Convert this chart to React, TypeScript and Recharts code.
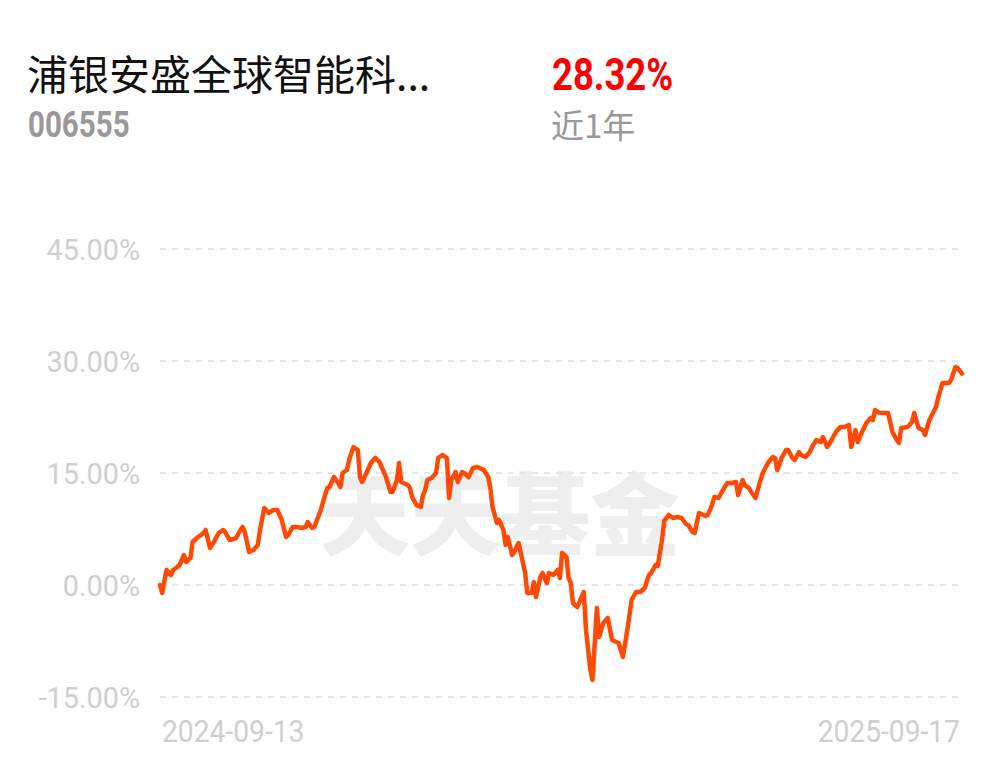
import { LineChart, Line, XAxis, YAxis, CartesianGrid } from 'recharts';

// fund info
const fundName = '浦银安盛全球智能科...';
const fundCode = '006555';
const periodReturn = '28.32%';
const periodLabel = '近1年';

// days since 2024-09-13
const dayOffset = [
  0, 1, 3, 5, 6, 8, 9, 11, 12, 14, 15, 17, 20, 21, 23, 24, 27, 29, 30, 32,
  35, 37, 38, 39, 41, 43, 45, 46, 48, 50, 52, 54, 56, 58, 59, 61, 63, 65, 67, 68,
  70, 71, 74, 75, 77, 78, 80, 82, 83, 84, 86, 87, 89, 91, 92, 93, 95, 97, 99, 101,
  104, 106, 107, 109, 110, 111, 114, 115, 116, 118, 120, 121, 122, 123, 125, 127, 128, 130, 132, 133,
  134, 136, 137, 139, 140, 142, 144, 146, 149, 151, 152, 153, 155, 156, 158, 159, 160, 162, 163, 165,
  167, 168, 169, 171, 172, 173, 175, 176, 178, 179, 181, 183, 184, 185, 187, 188, 189, 190, 192, 195,
  196, 198, 199, 201, 202, 204, 206, 208, 211, 213, 215, 217, 219, 221, 223, 225, 226, 228, 229, 231,
  232, 234, 236, 238, 240, 242, 243, 245, 246, 248, 249, 251, 252, 254, 255, 257, 259, 261, 263, 265,
  266, 268, 269, 271, 272, 274, 275, 277, 278, 280, 282, 283, 284, 286, 288, 289, 291, 292, 294, 295,
  297, 299, 300, 302, 304, 305, 307, 309, 311, 313, 315, 317, 318, 320, 321, 323, 325, 327, 328, 329,
  331, 334, 335, 337, 339, 340, 341, 344, 346, 347, 349, 351, 352, 354, 357, 358, 360, 363, 364, 366,
  367, 369,
];

// cumulative return, %
const returnPct = [
  0.0, -1.07, 2.01, 1.34, 2.01, 2.41, 2.68, 4.02, 3.08, 3.62, 5.76, 6.29, 6.96, 7.37, 4.96, 5.36, 6.96, 7.37, 7.1, 6.03,
  6.29, 7.37, 7.77, 7.1, 4.42, 4.69, 5.36, 7.37, 10.31, 9.64, 10.04, 10.04, 8.71, 6.43, 6.7, 7.77, 7.77, 7.63, 7.77, 8.44,
  7.63, 7.77, 10.04, 11.12, 12.99, 13.13, 14.46, 13.66, 13.13, 15.0, 15.4, 16.74, 18.48, 18.08, 14.46, 13.79, 15.0, 16.34, 17.01, 16.47,
  14.46, 12.46, 12.46, 14.06, 16.34, 13.79, 13.39, 12.99, 11.79, 10.71, 10.45, 12.05, 12.72, 14.06, 14.33, 15.0, 17.01, 17.41, 17.01, 11.65,
  14.06, 15.13, 13.79, 15.13, 15.0, 14.46, 15.67, 15.8, 15.4, 14.46, 12.99, 10.45, 8.3, 8.71, 7.37, 5.36, 6.43, 4.02, 4.42, 5.62,
  2.95, 1.61, -1.07, -1.07, 0.4, -1.61, 1.07, 1.61, 0.27, 1.61, 1.34, 2.01, 0.94, 4.29, 3.75, 0.94, 0.27, -2.41, -2.95, -0.94,
  -6.0, -11.38, -12.72, -3.08, -6.96, -5.09, -4.42, -7.37, -7.77, -9.64, -6.03, -2.01, -0.94, -0.94, -0.4, 1.34, 1.61, 2.68, 2.54, 6.03,
  8.57, 9.38, 8.97, 9.11, 8.97, 8.17, 8.04, 7.1, 6.96, 9.64, 9.51, 9.24, 9.38, 10.71, 11.79, 11.65, 12.72, 13.66, 13.66, 13.79,
  12.05, 14.06, 13.39, 12.99, 12.46, 11.65, 12.72, 14.73, 15.4, 16.47, 17.14, 17.01, 15.4, 17.01, 18.08, 18.08, 17.01, 16.74, 17.81, 17.41,
  17.14, 17.81, 18.48, 19.42, 19.15, 19.82, 18.48, 19.42, 20.49, 21.16, 21.16, 21.43, 18.48, 20.76, 19.15, 20.49, 21.7, 22.37, 22.1, 23.44,
  23.04, 23.04, 23.04, 20.49, 19.42, 19.02, 21.03, 21.16, 21.83, 23.04, 21.03, 20.76, 20.09, 22.1, 23.84, 25.04, 27.05, 27.05, 27.46, 29.2,
  29.06, 28.32,
];

const yTicks = [-15, 0, 15, 30, 45];
const xTicks = [0, 369];
const xTickLabels = ['2024-09-13', '2025-09-17'];

const data = dayOffset.map((d, i) => ({ day: d, value: returnPct[i] }));

const YTick = ({ x, y, payload }: any) => (
  <g transform={`translate(${x},${y})`}>
    <text
      transform="scale(0.96,1)"
      textAnchor="end"
      dy="0.36em"
      fontSize={30}
      fill="#cfcfcf"
      fontFamily="Roboto"
    >
      {payload.value.toFixed(2) + '%'}
    </text>
  </g>
);

const XTick = ({ x, y, payload }: any) => {
  const idx = xTicks.indexOf(payload.value);
  const first = idx === 0;
  return (
    <g transform={`translate(${first ? x + 2 : x - 2},${y + 45})`}>
      <text
        transform="scale(0.91,1)"
        textAnchor={first ? 'start' : 'end'}
        fontSize={31}
        fill="#cfcfcf"
        fontFamily="Roboto"
      >
        {xTickLabels[idx]}
      </text>
    </g>
  );
};

const App = () => {
  return (
    <div
      style={{
        position: 'relative',
        width: 1001,
        height: 767,
        background: '#fff',
        fontFamily: 'Roboto, "Noto Sans CJK SC", sans-serif',
        overflow: 'hidden',
      }}
    >
      <style>{'body{margin:0}'}</style>
      <div
        style={{
          position: 'absolute',
          left: 27,
          top: 52,
          fontSize: 41,
          lineHeight: 1,
          color: '#111',
          fontFamily: '"Noto Sans CJK SC", sans-serif',
          whiteSpace: 'nowrap',
        }}
      >
        {fundName}
      </div>
      <div
        style={{
          position: 'absolute',
          left: 28,
          top: 107,
          fontSize: 36,
          lineHeight: 1,
          fontWeight: 700,
          color: '#999',
          transform: 'scaleX(0.82)',
          transformOrigin: 'left',
        }}
      >
        {fundCode}
      </div>
      <div
        style={{
          position: 'absolute',
          left: 552,
          top: 52,
          fontSize: 45,
          lineHeight: 1,
          fontWeight: 700,
          color: '#f00',
          transform: 'scaleX(0.81)',
          transformOrigin: 'left',
        }}
      >
        {periodReturn}
      </div>
      <div
        style={{
          position: 'absolute',
          left: 551,
          top: 108,
          fontSize: 33,
          lineHeight: 1,
          color: '#999',
          fontFamily: '"Noto Sans CJK SC", sans-serif',
        }}
      >
        {periodLabel}
      </div>
      {/* watermark */}
      <div
        style={{
          position: 'absolute',
          left: 320,
          top: 464,
          fontSize: 90,
          lineHeight: 1,
          fontWeight: 900,
          color: '#eeeeee',
          fontFamily: '"Noto Sans CJK SC", sans-serif',
          whiteSpace: 'nowrap',
        }}
      >
        天天基金
      </div>
      <div style={{ position: 'absolute', left: 0, top: 0 }}>
        <LineChart
          width={1001}
          height={767}
          data={data}
          margin={{ top: 249, right: 39, bottom: 0, left: 0 }}
        >
          <CartesianGrid vertical={false} stroke="#e6e6e6" strokeDasharray="6 6" strokeWidth={2} />
          <XAxis
            dataKey="day"
            type="number"
            domain={[0, 369]}
            ticks={xTicks}
            interval={0}
            height={70}
            tickSize={0}
            tickMargin={0}
            axisLine={false}
            tickLine={false}
            tick={<XTick />}
          />
          <YAxis
            domain={[-15, 45]}
            ticks={yTicks}
            width={160}
            tickSize={0}
            tickMargin={20}
            axisLine={false}
            tickLine={false}
            tick={<YTick />}
          />
          <Line
            type="linear"
            dataKey="value"
            stroke="#ff4a06"
            strokeWidth={4.5}
            strokeLinejoin="round"
            strokeLinecap="round"
            dot={false}
            isAnimationActive={false}
          />
        </LineChart>
      </div>
    </div>
  );
};

export default App;
